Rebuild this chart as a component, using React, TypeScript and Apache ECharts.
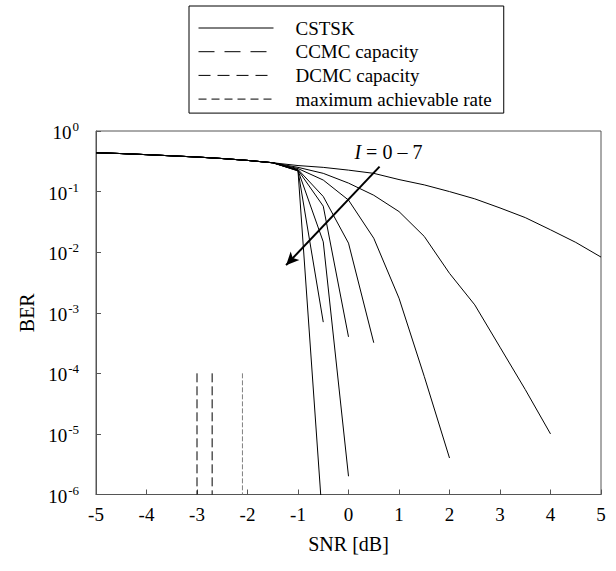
import React, { useEffect, useRef } from 'react';
import * as echarts from 'echarts';

const FONT = 'Liberation Serif';

// Shared part of all CSTSK curves (SNR in dB, BER)
const snrCommon = [-5, -4.5, -4, -3.5, -3, -2.5, -2, -1.5];
const berCommon = [0.438, 0.424, 0.407, 0.389, 0.372, 0.351, 0.327, 0.299];

// I = 0 .. 7 branches
const snrI0 = [-1, -0.5, 0, 0.5, 1, 1.5, 2, 2.5, 3, 3.5, 4, 4.5, 5];
const berI0 = [0.269, 0.251, 0.226, 0.2, 0.158, 0.129, 0.1, 0.0759, 0.0537, 0.0372, 0.0234, 0.0145, 0.0083];
const snrI1 = [-1, -0.5, 0, 0.5, 1, 1.5, 2, 2.5, 3, 3.5, 4];
const berI1 = [0.251, 0.2, 0.138, 0.087, 0.0468, 0.0182, 0.00447, 0.00135, 0.00027, 0.000054, 0.00001];
const snrI2 = [-1, -0.5, 0, 0.5, 1, 1.5, 2];
const berI2 = [0.24, 0.155, 0.0724, 0.017, 0.00174, 0.000089, 0.000004];
const snrI3 = [-1, -0.5, 0, 0.5];
const berI3 = [0.232, 0.083, 0.0141, 0.00032];
const snrI4 = [-1, -0.5, 0];
const berI4 = [0.226, 0.0575, 0.0004];
const snrI5 = [-1, -0.5, 0];
const berI5 = [0.224, 0.0148, 0.000002];
const snrI6 = [-1, -0.5];
const berI6 = [0.221, 0.0007];
const snrI7 = [-1, -0.5];
const berI7 = [0.219, 0.00000025];

const branches = [
  [snrI0, berI0], [snrI1, berI1], [snrI2, berI2], [snrI3, berI3],
  [snrI4, berI4], [snrI5, berI5], [snrI6, berI6], [snrI7, berI7],
];

// Capacity limits (SNR in dB), drawn from BER 1e-4 down to 1e-6
const ccmcSnr = -3.0;
const dcmcSnr = -2.7;
const maxRateSnr = -2.1;
const limitBer = [1e-4, 1e-6];

const yTicks = [1, 0.1, 0.01, 0.001, 0.0001, 0.00001, 0.000001];

export default function App() {
  const ref = useRef<HTMLDivElement>(null);
  useEffect(() => {
    if (!ref.current) return;
    const chart = echarts.init(ref.current, undefined, { renderer: 'svg' });

    const cstsk = branches.map(([snr, ber], idx) => {
      const xs = [...snrCommon, ...(snr as number[])];
      const ys = [...berCommon, ...(ber as number[])];
      const s: any = {
        name: 'CSTSK',
        type: 'line',
        symbol: 'none',
        clip: true,
        itemStyle: { color: '#000' },
        lineStyle: { color: '#000', width: 1, type: 'solid' },
        data: xs.map((x, i) => [x, ys[i]]),
      };
      if (idx === 0) {
        s.markLine = {
          silent: true,
          symbol: ['none', 'arrow'],
          symbolSize: [9, 13],
          label: { show: false },
          lineStyle: { color: '#000', width: 2, type: 'solid' },
          data: [[{ coord: [0.615, 0.258] }, { coord: [-1.236, 0.0061] }]],
        };
        s.markPoint = {
          silent: true,
          symbol: 'circle',
          symbolSize: 1,
          itemStyle: { color: 'rgba(0,0,0,0)' },
          data: [{
            coord: [0.79, 0.455],
            label: {
              show: true,
              position: 'inside',
              formatter: '{i|I} = 0 – 7',
              fontFamily: FONT,
              fontSize: 20,
              color: '#000',
              rich: { i: { fontStyle: 'italic', fontFamily: FONT, fontSize: 20, color: '#000' } },
            },
          }],
        };
      }
      return s;
    });

    const limit = (name: string, x: number, dash: number[], color: string) => ({
      name,
      type: 'line',
      symbol: 'none',
      itemStyle: { color: '#000' },
      lineStyle: { color, width: 1, type: dash },
      data: limitBer.map((b) => [x, b]),
    });

    chart.setOption({
      animation: false,
      backgroundColor: '#fff',
      textStyle: { fontFamily: FONT },
      grid: { left: 96, right: 15, top: 131, bottom: 76.5, show: true, borderColor: '#555', borderWidth: 1 },
      legend: {
        orient: 'vertical',
        left: 189,
        top: 6,
        padding: [12, 12, 4, 9],
        itemWidth: 75,
        itemHeight: 14,
        itemGap: 3.7,
        borderColor: '#000',
        borderWidth: 1,
        itemStyle: { opacity: 0 },
        formatter: (name: string) => `{t|${name}}`,
        textStyle: {
          fontFamily: FONT,
          fontSize: 19,
          color: '#000',
          lineHeight: 20,
          rich: { t: { fontFamily: FONT, fontSize: 19, color: '#000', lineHeight: 20, padding: [0, 0, 0, 17] } },
        },
        data: [
          { name: 'CSTSK', lineStyle: { width: 1, color: '#000' } },
          { name: 'CCMC capacity', lineStyle: { width: 1, type: [16, 10], color: '#000' } },
          { name: 'DCMC capacity', lineStyle: { width: 1, type: [12, 7], color: '#000' } },
          { name: 'maximum achievable rate', lineStyle: { width: 1, type: [8, 5], color: '#000' } },
        ],
      },
      xAxis: {
        type: 'value',
        min: -5,
        max: 5,
        interval: 1,
        name: 'SNR [dB]',
        nameLocation: 'middle',
        nameGap: 39,
        nameTextStyle: { fontFamily: FONT, fontSize: 20, color: '#000' },
        axisLine: { onZero: false, lineStyle: { color: '#555' } },
        axisTick: { inside: true, length: 5, lineStyle: { color: '#555' } },
        axisLabel: { fontFamily: FONT, fontSize: 19, color: '#000', margin: 10 },
        splitLine: { show: false },
      },
      yAxis: {
        type: 'log',
        logBase: 10,
        min: yTicks[yTicks.length - 1],
        max: yTicks[0],
        name: 'BER',
        nameLocation: 'middle',
        nameGap: 58,
        nameTextStyle: { fontFamily: FONT, fontSize: 20, color: '#000' },
        axisLine: { show: true, onZero: false, lineStyle: { color: '#555' } },
        axisTick: { inside: true, length: 5, lineStyle: { color: '#555' } },
        splitLine: { show: false },
        minorTick: { show: false },
        axisLabel: {
          margin: 17,
          formatter: (v: number) => `{b|10}{s|${Math.round(Math.log10(v))}}`,
          rich: {
            b: { fontFamily: FONT, fontSize: 19, color: '#000', lineHeight: 22, verticalAlign: 'bottom' },
            s: { fontFamily: FONT, fontSize: 13, color: '#000', lineHeight: 22, verticalAlign: 'top', padding: [0, 0, 6, 1] },
          },
        },
      },
      series: [
        ...cstsk,
        limit('CCMC capacity', ccmcSnr, [9, 4], '#000'),
        limit('DCMC capacity', dcmcSnr, [9, 4], '#000'),
        limit('maximum achievable rate', maxRateSnr, [5, 2], '#808080'),
      ],
    });
    return () => chart.dispose();
  }, []);
  return (
    <div
      ref={ref}
      style={{ position: 'fixed', left: 0, top: 0, width: 616, height: 571, background: '#fff' }}
    />
  );
}
